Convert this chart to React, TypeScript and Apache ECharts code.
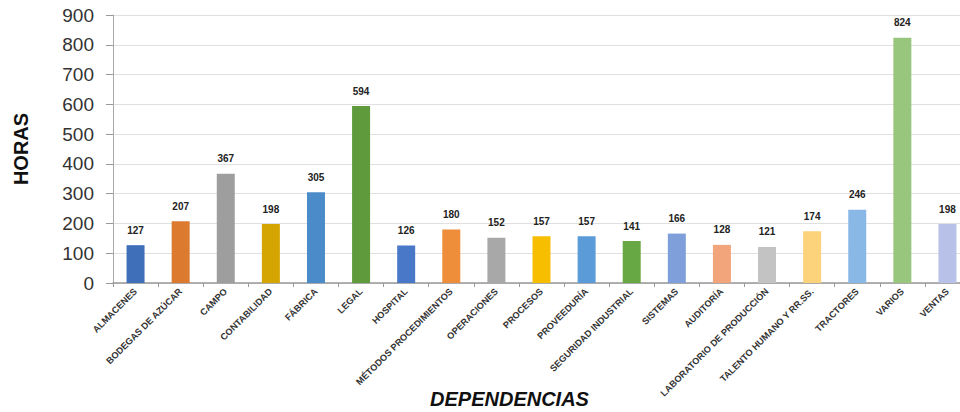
import React, { useEffect, useRef } from "react";
import * as echarts from "echarts";

const categories = [
  "ALMACENES",
  "BODEGAS DE AZÚCAR",
  "CAMPO",
  "CONTABILIDAD",
  "FÁBRICA",
  "LEGAL",
  "HOSPITAL",
  "MÉTODOS PROCEDIMIENTOS",
  "OPERACIONES",
  "PROCESOS",
  "PROVEEDURÍA",
  "SEGURIDAD INDUSTRIAL",
  "SISTEMAS",
  "AUDITORÍA",
  "LABORATORIO DE PRODUCCIÓN",
  "TALENTO HUMANO Y RR.SS.",
  "TRACTORES",
  "VARIOS",
  "VENTAS",
];

const horas = [127, 207, 367, 198, 305, 594, 126, 180, 152, 157, 157, 141, 166, 128, 121, 174, 246, 824, 198];

const barColors = [
  "#3f6fb8",
  "#dc7a30",
  "#9e9e9e",
  "#d4a500",
  "#4b8bc9",
  "#5f9a3c",
  "#4a78c8",
  "#ef8e3a",
  "#a8a8a8",
  "#f7be00",
  "#5b9bd8",
  "#68a844",
  "#7f9fdb",
  "#f2a57a",
  "#c3c3c3",
  "#fcd27a",
  "#8ab8e6",
  "#98c67c",
  "#b8c2e8",
];

const yTicks = { min: 0, max: 900, interval: 100 };

export default function App() {
  const ref = useRef<HTMLDivElement>(null);
  useEffect(() => {
    if (!ref.current) return;
    const chart = echarts.init(ref.current, null, { renderer: "svg" });
    chart.setOption({
      animation: false,
      backgroundColor: "#ffffff",
      grid: {
        left: 113,
        right: -10,
        top: 15,
        bottom: 129,
        containLabel: false,
        outerBoundsMode: "none",
      },
      xAxis: {
        type: "category",
        data: categories,
        name: "DEPENDENCIAS",
        nameLocation: "middle",
        nameGap: 106,
        nameMoveOverlap: false,
        nameTextStyle: {
          fontFamily: "Liberation Sans, Arial, sans-serif",
          fontSize: 20,
          fontWeight: "bold",
          fontStyle: "italic",
          color: "#111",
          padding: [0, 64, 0, 0],
        },
        axisLine: { lineStyle: { color: "#999", width: 1.5 } },
        axisTick: { show: true, alignWithLabel: false, lineStyle: { color: "#999" }, length: 4 },
        axisLabel: {
          interval: 0,
          rotate: 45,
          margin: 7,
          fontFamily: "Liberation Sans, Arial, sans-serif",
          fontSize: 9.2,
          fontWeight: "bold",
          color: "#333",
        },
      },
      yAxis: {
        type: "value",
        min: yTicks.min,
        max: yTicks.max,
        interval: yTicks.interval,
        name: "HORAS",
        nameLocation: "middle",
        nameGap: 82,
        nameTextStyle: {
          fontFamily: "Liberation Sans, Arial, sans-serif",
          fontSize: 20,
          fontWeight: "bold",
          color: "#111",
        },
        axisLine: { show: true, lineStyle: { color: "#aaa" } },
        axisTick: { show: true, lineStyle: { color: "#999" }, length: 7 },
        axisLabel: {
          fontFamily: "Liberation Sans, Arial, sans-serif",
          fontSize: 19,
          color: "#333",
          margin: 19,
        },
        splitLine: { lineStyle: { color: "#e0e0e0" } },
      },
      series: [
        {
          type: "bar",
          barWidth: 18,
          data: horas.map((v, i) => ({ value: v, itemStyle: { color: barColors[i] } })),
          label: {
            show: true,
            position: "top",
            distance: 10,
            fontFamily: "Liberation Sans, Arial, sans-serif",
            fontSize: 10,
            fontWeight: "bold",
            color: "#222",
          },
        },
      ],
    });
    return () => chart.dispose();
  }, []);
  return <div ref={ref} style={{ position: "fixed", left: 0, top: 0, width: 960, height: 412 }} />;
}
